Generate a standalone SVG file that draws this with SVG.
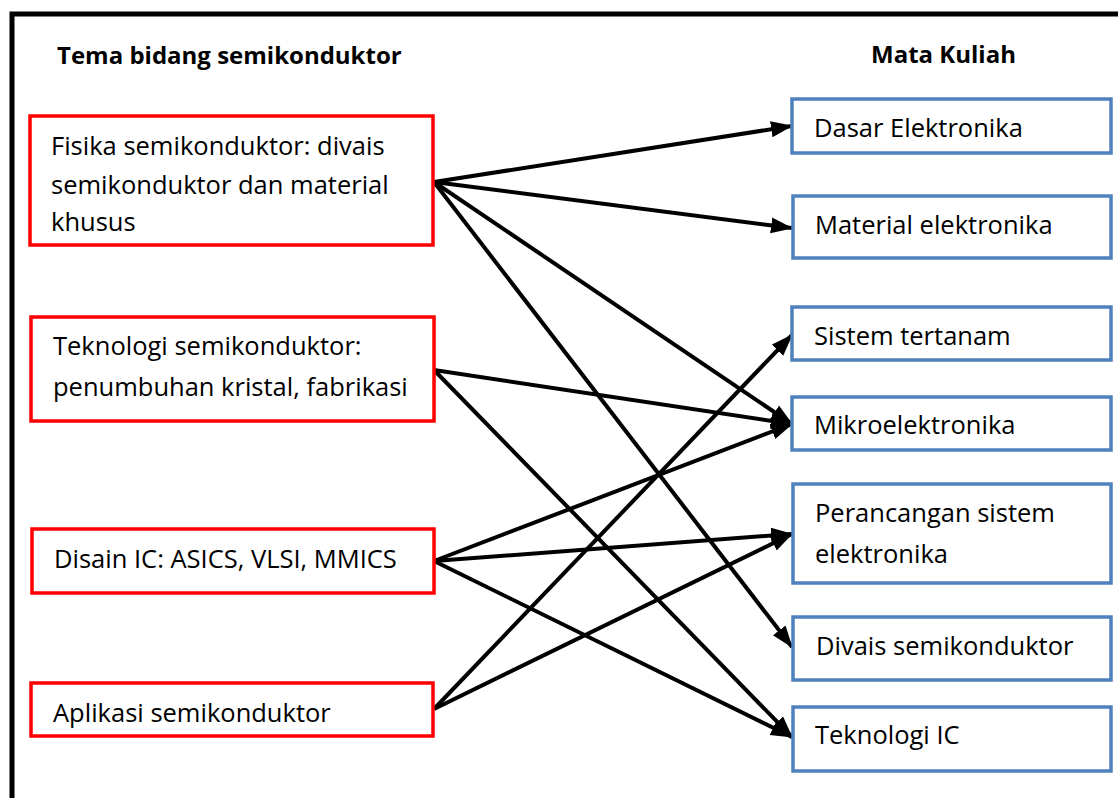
<svg xmlns="http://www.w3.org/2000/svg" width="1118" height="798" viewBox="0 0 1118 798">
<defs>
<style>
.t{font-family:"Open Sans",Lato,"Liberation Sans",sans-serif;font-size:25.5px;fill:#000}
.h{font-family:"Open Sans",Lato,"Liberation Sans",sans-serif;font-size:24px;font-weight:bold;fill:#000}
.r{fill:#fff;stroke:#ff0000;stroke-width:3.5}
.b{fill:#fff;stroke:#4f81bd;stroke-width:3.5}
.c{stroke:#000;stroke-width:4;fill:none;marker-end:url(#ah)}
</style>
<marker id="ah" markerUnits="userSpaceOnUse" markerWidth="24" markerHeight="18" refX="21" refY="8" orient="auto">
<path d="M0,0 L22,8 L0,16 z" fill="#000"/>
</marker>
</defs>
<rect width="1118" height="798" fill="#fff"/>
<rect x="12" y="14" width="1200" height="900" fill="none" stroke="#000" stroke-width="5"/>
<text class="h" x="57" y="64">Tema bidang semikonduktor</text>
<text class="h" x="871" y="63">Mata Kuliah</text>
<g id="connectors">
<line class="c" x1="434" y1="182" x2="792" y2="126"/>
<line class="c" x1="434" y1="182" x2="792" y2="228"/>
<line class="c" x1="434" y1="182" x2="792" y2="424"/>
<line class="c" x1="434" y1="182" x2="792" y2="647"/>
<line class="c" x1="434" y1="370" x2="792" y2="424"/>
<line class="c" x1="434" y1="370" x2="792" y2="737"/>
<line class="c" x1="434" y1="561" x2="792" y2="424"/>
<line class="c" x1="434" y1="561" x2="792" y2="534"/>
<line class="c" x1="434" y1="561" x2="792" y2="737"/>
<line class="c" x1="434" y1="709" x2="792" y2="335"/>
<line class="c" x1="434" y1="709" x2="792" y2="534"/>
</g>
<g id="n-fisika"><rect class="r" x="30" y="116" width="403" height="129"/>
<text class="t" x="51" y="155">Fisika semikonduktor: divais</text>
<text class="t" x="51" y="194">semikonduktor dan material</text>
<text class="t" x="51" y="231">khusus</text></g>
<g id="n-teknologi"><rect class="r" x="31" y="317" width="403" height="104"/>
<text class="t" x="53" y="355">Teknologi semikonduktor:</text>
<text class="t" x="53" y="396">penumbuhan kristal, fabrikasi</text></g>
<g id="n-disain"><rect class="r" x="32" y="529" width="402" height="64"/>
<text class="t" x="54" y="568">Disain IC: ASICS, VLSI, MMICS</text></g>
<g id="n-aplikasi"><rect class="r" x="31" y="683" width="402" height="53"/>
<text class="t" x="53" y="722">Aplikasi semikonduktor</text></g>
<g id="n-dasar"><rect class="b" x="792" y="99" width="319" height="54"/>
<text class="t" x="814" y="137">Dasar Elektronika</text></g>
<g id="n-material"><rect class="b" x="793" y="196" width="318" height="62"/>
<text class="t" x="815" y="234">Material elektronika</text></g>
<g id="n-sistem"><rect class="b" x="792" y="307" width="319" height="53"/>
<text class="t" x="814" y="345">Sistem tertanam</text></g>
<g id="n-mikro"><rect class="b" x="792" y="397" width="319" height="53"/>
<text class="t" x="814" y="434">Mikroelektronika</text></g>
<g id="n-perancangan"><rect class="b" x="793" y="484" width="318" height="99"/>
<text class="t" x="815" y="522">Perancangan sistem</text>
<text class="t" x="815" y="563">elektronika</text></g>
<g id="n-divais"><rect class="b" x="793" y="617" width="318" height="63"/>
<text class="t" x="816" y="655">Divais semikonduktor</text></g>
<g id="n-tekic"><rect class="b" x="793" y="707" width="318" height="64"/>
<text class="t" x="815" y="744">Teknologi IC</text></g>
</svg>
